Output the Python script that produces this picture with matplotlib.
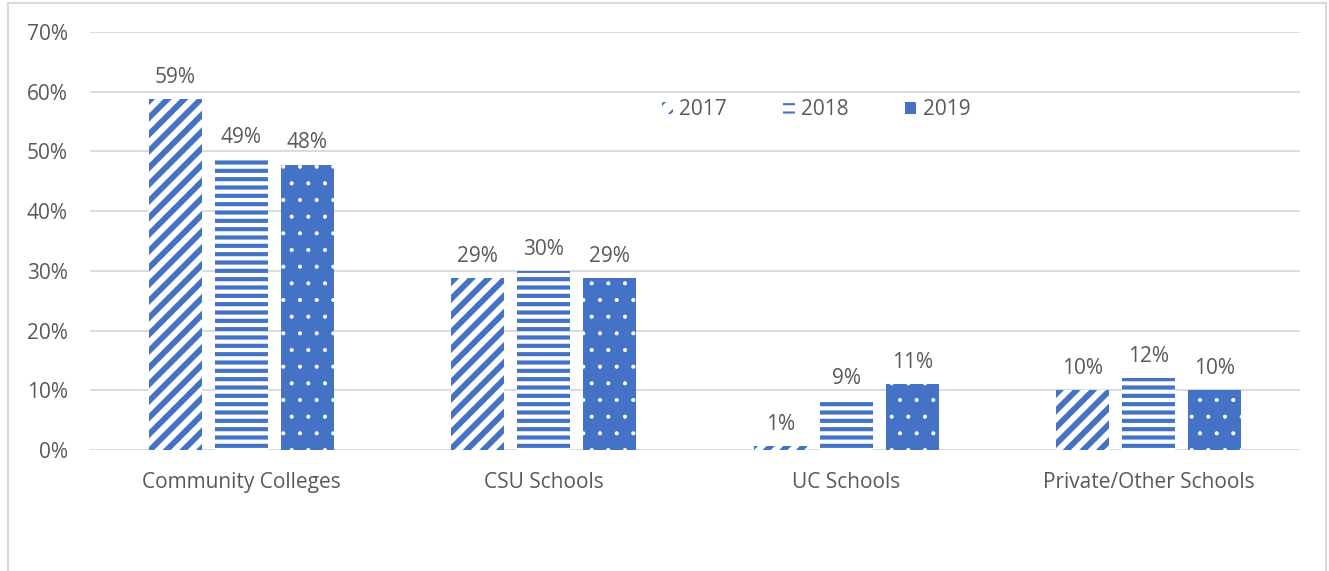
import numpy as np
import matplotlib
matplotlib.use("Agg")
import matplotlib.pyplot as plt
from matplotlib.patches import Rectangle

# 数据
categories = ["Community Colleges", "CSU Schools", "UC Schools", "Private/Other Schools"]
years = ["2017", "2018", "2019"]
v2017 = [0.587, 0.288, 0.007, 0.100]
v2018 = [0.487, 0.300, 0.084, 0.120]
v2019 = [0.478, 0.288, 0.110, 0.100]
lab2017 = ["59%", "29%", "1%", "10%"]
lab2018 = ["49%", "30%", "9%", "12%"]
lab2019 = ["48%", "29%", "11%", "10%"]

blue = "#4472C4"
grey_txt = "#595959"
plt.rcParams['font.family'] = ['Open Sans', 'DejaVu Sans']
fs = 15

fig = plt.figure(figsize=(13.29, 5.71), dpi=100)
ax = fig.add_axes([90 / 1329, 1 - 450 / 571, 1210 / 1329, 418 / 571])

# 外框
fig.patches.append(Rectangle((8 / 1329, -0.1), 1318 / 1329, 1.1 - 3 / 571,
                             transform=fig.transFigure, fill=False,
                             edgecolor="#D9D9D9", linewidth=1.5))

x = np.arange(len(categories))
w = 0.175
step = 0.218
styles = [
    dict(facecolor="white", edgecolor=blue, hatch="//", hlw=4.2),
    dict(facecolor="white", edgecolor=blue, hatch="--", hlw=3.0),
    dict(facecolor=blue, edgecolor="white", hatch=".", hlw=0.5),
]
series = [v2017, v2018, v2019]
labels = [lab2017, lab2018, lab2019]

for i in range(3):
    st = styles[i]
    with plt.rc_context({"hatch.linewidth": st["hlw"]}):
        bars = ax.bar(x + (i - 1) * step, series[i], width=w,
                      facecolor=st["facecolor"], edgecolor=st["edgecolor"],
                      hatch=st["hatch"], linewidth=0, label=years[i], zorder=3)
    for b, t in zip(bars, labels[i]):
        ax.annotate(t, (b.get_x() + b.get_width() / 2, b.get_height()),
                    xytext=(0, 8), textcoords="offset points",
                    ha="center", va="bottom", fontsize=fs, color=grey_txt)

ax.set_xlim(-0.5, 3.5)
ax.set_ylim(0, 0.7)
ax.set_yticks(np.arange(0, 0.71, 0.1))
ax.set_yticklabels([f"{int(round(t * 100))}%" for t in np.arange(0, 0.71, 0.1)])
ax.set_xticks(x)
ax.set_xticklabels(categories)
ax.tick_params(axis="y", length=0, pad=16, labelsize=fs, labelcolor=grey_txt)
ax.tick_params(axis="x", length=0, pad=16, labelsize=fs, labelcolor=grey_txt)
ax.grid(axis="y", color="#D9D9D9", linewidth=1.3, zorder=0)
for s in ax.spines.values():
    s.set_visible(False)

with plt.rc_context({"hatch.linewidth": 1.5}):
    leg = ax.legend(loc="center", bbox_to_anchor=(816 / 1329, 1 - 110 / 571),
                    bbox_transform=fig.transFigure, ncol=3, frameon=False,
                    fontsize=fs, handlelength=0.55, handleheight=0.55,
                    handletextpad=0.3, columnspacing=2.7, labelcolor=grey_txt)

fig.savefig("out.png", dpi=100)
